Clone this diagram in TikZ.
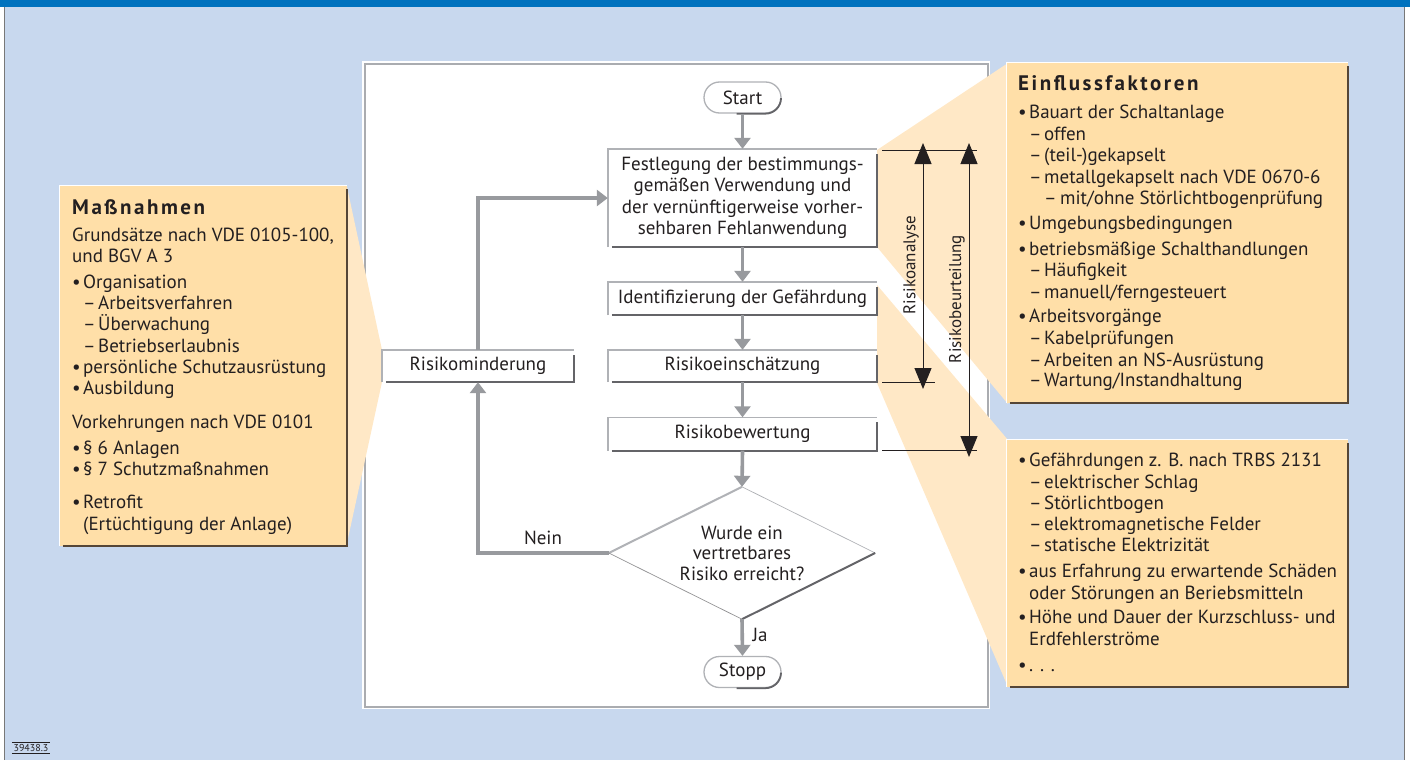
\documentclass[tikz,border=0pt]{standalone}
\usepackage{fontspec}
\setmainfont{PT Sans}
\usetikzlibrary{arrows.meta,shapes.geometric,shapes.misc}
\definecolor{bgblue}{RGB}{200,216,238}
\definecolor{barblue}{RGB}{0,114,190}
\definecolor{boxor}{RGB}{255,223,168}
\definecolor{wedgeor}{RGB}{255,232,198}
\definecolor{shadowbr}{RGB}{85,70,55}
\definecolor{flowgrey}{RGB}{152,154,158}
\definecolor{lightedge}{RGB}{176,178,182}
\definecolor{darkedge}{RGB}{100,100,104}
\definecolor{panelgrey}{RGB}{170,172,176}
\definecolor{txt}{RGB}{35,31,32}
\definecolor{frameg}{RGB}{120,120,120}
\newcommand\ibul[1]{\makebox[11pt][l]{\textbullet}#1}
\newcommand\idash[1]{\hspace*{11pt}\makebox[15pt][l]{–}#1}
\newcommand\iddash[1]{\hspace*{26pt}\makebox[16pt][l]{–}#1}
\newcommand\icont[1]{\hspace*{11pt}#1}
\begin{document}
\begin{tikzpicture}[x=1pt,y=-1pt,
  every node/.style={text=txt},
  ln/.style={anchor=base west, inner sep=0pt, font=\fontsize{19}{21.5}\selectfont},
  ttl/.style={anchor=base west, inner sep=0pt, font=\fontsize{21}{23}\selectfont\bfseries\addfontfeatures{LetterSpace=12}},
  fbox/.style={rectangle, fill=white, inner sep=0pt, minimum width=269pt, align=center, font=\fontsize{19}{21.5}\selectfont},
  stad/.style={rounded rectangle, fill=white, draw=lightedge, line width=1.3pt, minimum width=77pt, minimum height=31pt, inner sep=0pt, font=\fontsize{19}{21.5}\selectfont},
  flow/.style={draw=flowgrey, line width=3.6pt, -{Triangle[length=11pt,width=16pt]}},
  dimline/.style={draw=txt, line width=1pt},
  dimarrow/.style={draw=txt, line width=1pt, {Triangle[length=21pt,width=17pt]}-{Triangle[length=21pt,width=17pt]}},
  obox/.style={rectangle, fill=boxor, inner sep=0pt},
  lbl/.style={inner sep=0pt, font=\fontsize{19}{21.5}\selectfont},
  vlbl/.style={inner sep=0pt, rotate=90, font=\fontsize{17}{19}\selectfont},
]
\useasboundingbox (0,0) rectangle (1410,760);
% background and frame
\fill[white] (0,0) rectangle (1410,760);
\fill[bgblue] (4.5,7) rectangle (1404.5,760);
\fill[barblue] (0,0) rectangle (1410,7.5);
\draw[frameg, line width=1pt] (4.5,7) -- (4.5,760) (1404.5,7) -- (1404.5,760);
% white panel
\fill[white] (362,61) rectangle (990,709);
\draw[panelgrey, line width=1.8pt] (365,64) rectangle (988,707);
% callout wedges
\fill[wedgeor] (347,187) -- (382,350) -- (382,382) -- (347,543) -- cycle;
\fill[wedgeor] (877,150) -- (1008,63) -- (1008,404) -- (877,247) -- cycle;
\fill[wedgeor] (877,285) -- (1008,440) -- (1008,687) -- (877,383) -- cycle;
% orange boxes
\node[obox, minimum width=287pt, minimum height=360pt] (mbox) at (203.5,366) {};
\node[obox, minimum width=341pt, minimum height=340pt] (ebox) at (1177.5,233) {};
\node[obox, minimum width=341pt, minimum height=247pt] (gbox) at (1177.5,563.5) {};
\foreach \n in {mbox,ebox,gbox}{
  \draw[white, line width=1.2pt] (\n.south west) -- (\n.north west) -- (\n.north east);
  \draw[shadowbr, line width=2.5pt] ([xshift=3pt]\n.south west) -- (\n.south east) -- ([yshift=-3pt]\n.north east);
}
% Massnahmen text
\node[ttl] (mt) at (72,214) {Maßnahmen};
\foreach \yy/\txtline [count=\i] in {
  241/{Grundsätze nach VDE 0105-100,},
  262/{und BGV A 3},
  288/{\ibul{Organisation}},
  309/{\idash{Arbeitsverfahren}},
  330/{\idash{Überwachung}},
  352/{\idash{Betriebserlaubnis}},
  373/{\ibul{persönliche Schutzausrüstung}},
  394/{\ibul{Ausbildung}},
  428/{Vorkehrungen nach VDE 0101},
  454/{\ibul{§ 6 Anlagen}},
  475/{\ibul{§ 7 Schutzmaßnahmen}},
  508/{\ibul{Retrofit}},
  530/{\icont{(Ertüchtigung der Anlage)}}}
  \node[ln] (m\i) at (72,\yy) {\txtline};
% Einflussfaktoren text
\node[ttl] (et) at (1018,90) {Einflussfaktoren};
\foreach \yy/\txtline [count=\i] in {
  118/{\ibul{Bauart der Schaltanlage}},
  140/{\idash{offen}},
  161/{\idash{(teil-)gekapselt}},
  183/{\idash{metallgekapselt nach VDE 0670-6}},
  204/{\iddash{mit/ohne Störlichtbogenprüfung}},
  229/{\ibul{Umgebungsbedingungen}},
  255/{\ibul{betriebsmäßige Schalthandlungen}},
  276/{\idash{Häufigkeit}},
  298/{\idash{manuell/ferngesteuert}},
  322/{\ibul{Arbeitsvorgänge}},
  344/{\idash{Kabelprüfungen}},
  366/{\idash{Arbeiten an NS-Ausrüstung}},
  386/{\idash{Wartung/Instandhaltung}}}
  \node[ln] (e\i) at (1018,\yy) {\txtline};
% Gefaehrdungen text
\foreach \yy/\txtline [count=\i] in {
  466/{\ibul{Gefährdungen z. B. nach TRBS 2131}},
  488/{\idash{elektrischer Schlag}},
  509/{\idash{Störlichtbogen}},
  530/{\idash{elektromagnetische Felder}},
  551/{\idash{statische Elektrizität}},
  577/{\ibul{aus Erfahrung zu erwartende Schäden}},
  599/{\icont{oder Störungen an Beriebsmitteln}},
  623/{\ibul{Höhe und Dauer der Kurzschluss- und}},
  645/{\icont{Erdfehlerströme}},
  671/{\ibul{. . .}}}
  \node[ln] (g\i) at (1018,\yy) {\txtline};
% flowchart nodes
\node[stad] (start) at (742.5,97.5) {Start};
\node[fbox, minimum height=98pt] (fest) at (742.5,198) {Festlegung der bestimmungs-\\gemäßen Verwendung und\\der vernünftigerweise vorher-\\sehbaren Fehlanwendung};
\node[fbox, minimum height=33pt] (ident) at (742.5,298.5) {Identifizierung der Gefährdung};
\node[fbox, minimum height=32pt] (eins) at (742.5,366) {Risikoeinschätzung};
\node[fbox, minimum height=33pt] (bew) at (742.5,434) {Risikobewertung};
\node[fbox, minimum width=192pt, minimum height=32pt] (mind) at (478,366) {Risikominderung};
\node[diamond, aspect=2, minimum width=266pt, minimum height=132pt, inner sep=0pt, align=center, font=\fontsize{19}{20.5}\selectfont] (dec) at (742,553) {Wurde ein\\vertretbares\\Risiko erreicht?};
\node[stad] (stopp) at (742.5,672) {Stopp};
% box edges
\foreach \n in {fest,ident,eins,bew,mind}{
  \draw[lightedge, line width=1.5pt] (\n.south west) -- (\n.north west) -- (\n.north east);
  \draw[darkedge, line width=2pt] ([xshift=4pt]\n.south west) -- (\n.south east) -- ([yshift=-5pt]\n.north east);
}
\foreach \n in {start,stopp}{
  \draw[darkedge, line width=1.8pt] ([xshift=-6pt]\n.south) -- ([xshift=23pt]\n.south) arc[start angle=-90, end angle=0, radius=15.5pt];
}
\draw[lightedge, line width=2pt] (dec.west) -- (dec.north);
\draw[lightedge, line width=0.7pt] (dec.north) -- (dec.east);
\draw[darkedge!70, line width=0.7pt] (dec.west) -- (dec.south);
\draw[darkedge, line width=2pt] (dec.south) -- (dec.east);
% flow connectors
\draw[flow] (start.south) -- (fest.north);
\draw[flow] (fest.south) -- (ident.north);
\draw[flow] (ident.south) -- (eins.north);
\draw[flow] (eins.south) -- (bew.north);
\draw[flow] (bew.south) -- (dec.north);
\draw[flow] (dec.south) -- (stopp.north);
\draw[flow] (dec.west) -| (mind.south);
\draw[flow] (mind.north) |- (fest.west);
\node[lbl] (nein) at (543,538) {Nein};
\node[lbl] (ja) at (760,635) {Ja};
% dimension lines
\coordinate (ra1) at (882,150);
\coordinate (ra2) at (977,150);
\coordinate (rb1) at (882,382);
\coordinate (rb2) at (935,382);
\coordinate (rc1) at (882,450);
\coordinate (rc2) at (977,450);
\coordinate (aa1) at (923,143);
\coordinate (aa2) at (923,389);
\coordinate (ab1) at (969,143);
\coordinate (ab2) at (969,457);
\draw[dimline] (ra1) -- (ra2);
\draw[dimline] (rb1) -- (rb2);
\draw[dimline] (rc1) -- (rc2);
\draw[dimarrow] (aa1) -- (aa2);
\draw[dimarrow] (ab1) -- (ab2);
\node[vlbl] (lra) at (911,265) {Risikoanalyse};
\node[vlbl] (lrb) at (957,299) {Risikobeurteilung};
% figure number
\node[inner sep=1.5pt, font=\fontsize{10}{10}\selectfont] (fig) at (31,748) {39438.3};
\draw[txt, line width=0.6pt] (fig.north west) -- (fig.north east) (fig.south west) -- (fig.south east);
\end{tikzpicture}
\end{document}
